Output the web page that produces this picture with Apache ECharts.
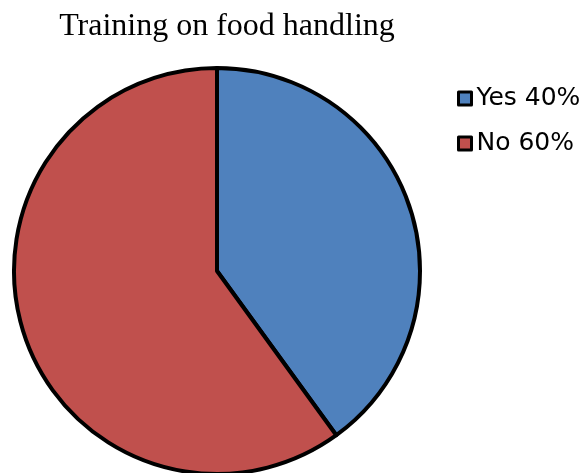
<!DOCTYPE html>
<html><head><meta charset="utf-8">
<script src="https://cdn.jsdelivr.net/npm/echarts@6/dist/echarts.min.js"></script>
<style>html,body{margin:0;padding:0;background:#fff}#c{width:587px;height:473px}</style>
</head><body><div id="c"></div>
<script>
const title = 'Training on food handling';
const categories = ['Yes', 'No'];
const values = [40, 60];
const colors = ['#4F81BD', '#C0504D'];

const chart = echarts.init(document.getElementById('c'), null, {renderer: 'canvas'});
chart.setOption({
  animation: false,
  backgroundColor: '#fff',
  title: {
    text: title, left: 222, top: 6, textAlign: 'center',
    textStyle: {fontFamily: 'Liberation Serif', fontSize: 32, fontWeight: 'normal', color: '#000'}
  },
  legend: {
    orient: 'vertical', left: 457, top: 86, padding: 0,
    itemWidth: 13, itemHeight: 13, itemGap: 20, icon: 'rect',
    itemStyle: {borderColor: '#000', borderWidth: 3},
    textStyle: {fontFamily: 'DejaVu Sans', fontSize: 25, lineHeight: 25, color: '#000'},
    formatter: function (name) {
      const i = categories.indexOf(name);
      return name + ' ' + values[i] + '%';
    },
    data: categories
  },
  series: [{
    type: 'pie',
    center: [217, 271],
    radius: 203,
    startAngle: 90,
    clockwise: true,
    label: {show: false},
    labelLine: {show: false},
    emphasis: {disabled: true},
    itemStyle: {borderColor: '#000', borderWidth: 4},
    data: categories.map((c, i) => ({name: c, value: values[i], itemStyle: {color: colors[i]}}))
  }]
});
</script></body></html>
